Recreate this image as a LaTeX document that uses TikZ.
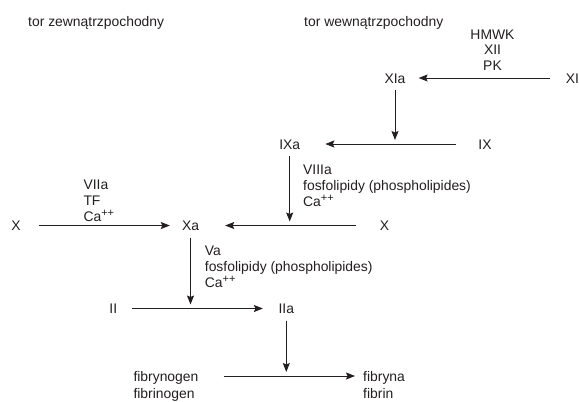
\documentclass[tikz,border=0pt]{standalone}
\usepackage{fontspec}
\setmainfont{Liberation Sans}
\usetikzlibrary{arrows.meta}
\definecolor{ink}{RGB}{35,31,32}
\newcommand{\caion}{Ca\raisebox{4.5pt}{\fontsize{11}{11}\selectfont ++}}
\begin{document}
\begin{tikzpicture}[x=1pt,y=-1pt,
  font=\fontsize{13.9}{15.8}\selectfont, text=ink,
  fac/.style={inner sep=0pt, text height=10pt, text depth=0pt},
  lab/.style={inner sep=0pt, align=left, anchor=north west},
  arr/.style={draw=ink, line width=.9pt, -{Stealth[length=9pt,width=7pt,inset=1.5pt]}},
  vert/.style={arr, shorten <=7pt, shorten >=4pt}]
\useasboundingbox (0,0) rectangle (579,402);
\node[fac, anchor=west] (torz) at (28,21){tor zewnątrzpochodny};
\node[fac, anchor=west] (torw) at (304,21){tor wewnątrzpochodny};
\node[fac] (xia) at (395,78){XIa};
\node[fac] (xi) at (572.5,78){XI};
\node[lab, align=center, anchor=north] (hmwk) at (492.5,29.3){HMWK\\XII\\PK};
\draw[arr, shorten <=16pt, shorten >=13pt] (xi) -- (xia);
\node[fac] (ixa) at (289.7,144){IXa};
\node[fac] (ix) at (485,144){IX};
\draw[arr, shorten <=22pt, shorten >=25pt] (ix) -- (ixa);
\coordinate (j1) at (xia |- ix);
\draw[vert] (xia) -- (j1);
\node[fac] (xl) at (16,225.5){X};
\node[fac] (xa) at (190.5,225.5){Xa};
\node[fac] (xr) at (384.5,225.5){X};
\node[lab] (viia) at (83.3,179.7){VIIa\\TF\\\caion};
\node[lab] (viiia) at (303,165){VIIIa\\fosfolipidy (phospholipides)\\\caion};
\draw[arr, shorten <=18pt, shorten >=12pt] (xl) -- (xa);
\draw[arr, shorten <=24pt, shorten >=26pt] (xr) -- (xa);
\coordinate (j2) at (ixa |- xa);
\draw[vert] (ixa) -- (j2);
\node[fac] (ii) at (113.3,308.5){II};
\node[fac] (iia) at (286.3,308.5){IIa};
\node[lab] (va) at (204.7,246){Va\\fosfolipidy (phospholipides)\\\caion};
\draw[arr, shorten <=14.5pt, shorten >=15.5pt] (ii) -- (iia);
\coordinate (j3) at (xa |- ii);
\draw[vert] (xa) -- (j3);
\node[fac, anchor=west] (fgn) at (133.3,376){fibrynogen};
\node[fac, anchor=west] (fgn2) at (133.3,393){fibrinogen};
\node[fac, anchor=west] (fbn) at (363,376){fibryna};
\node[fac, anchor=west] (fbn2) at (363,393){fibrin};
\draw[arr, shorten <=25pt, shorten >=8pt] (fgn) -- (fbn);
\coordinate (j4) at (iia |- fgn);
\draw[vert] (iia) -- (j4);

\end{tikzpicture}
\end{document}
